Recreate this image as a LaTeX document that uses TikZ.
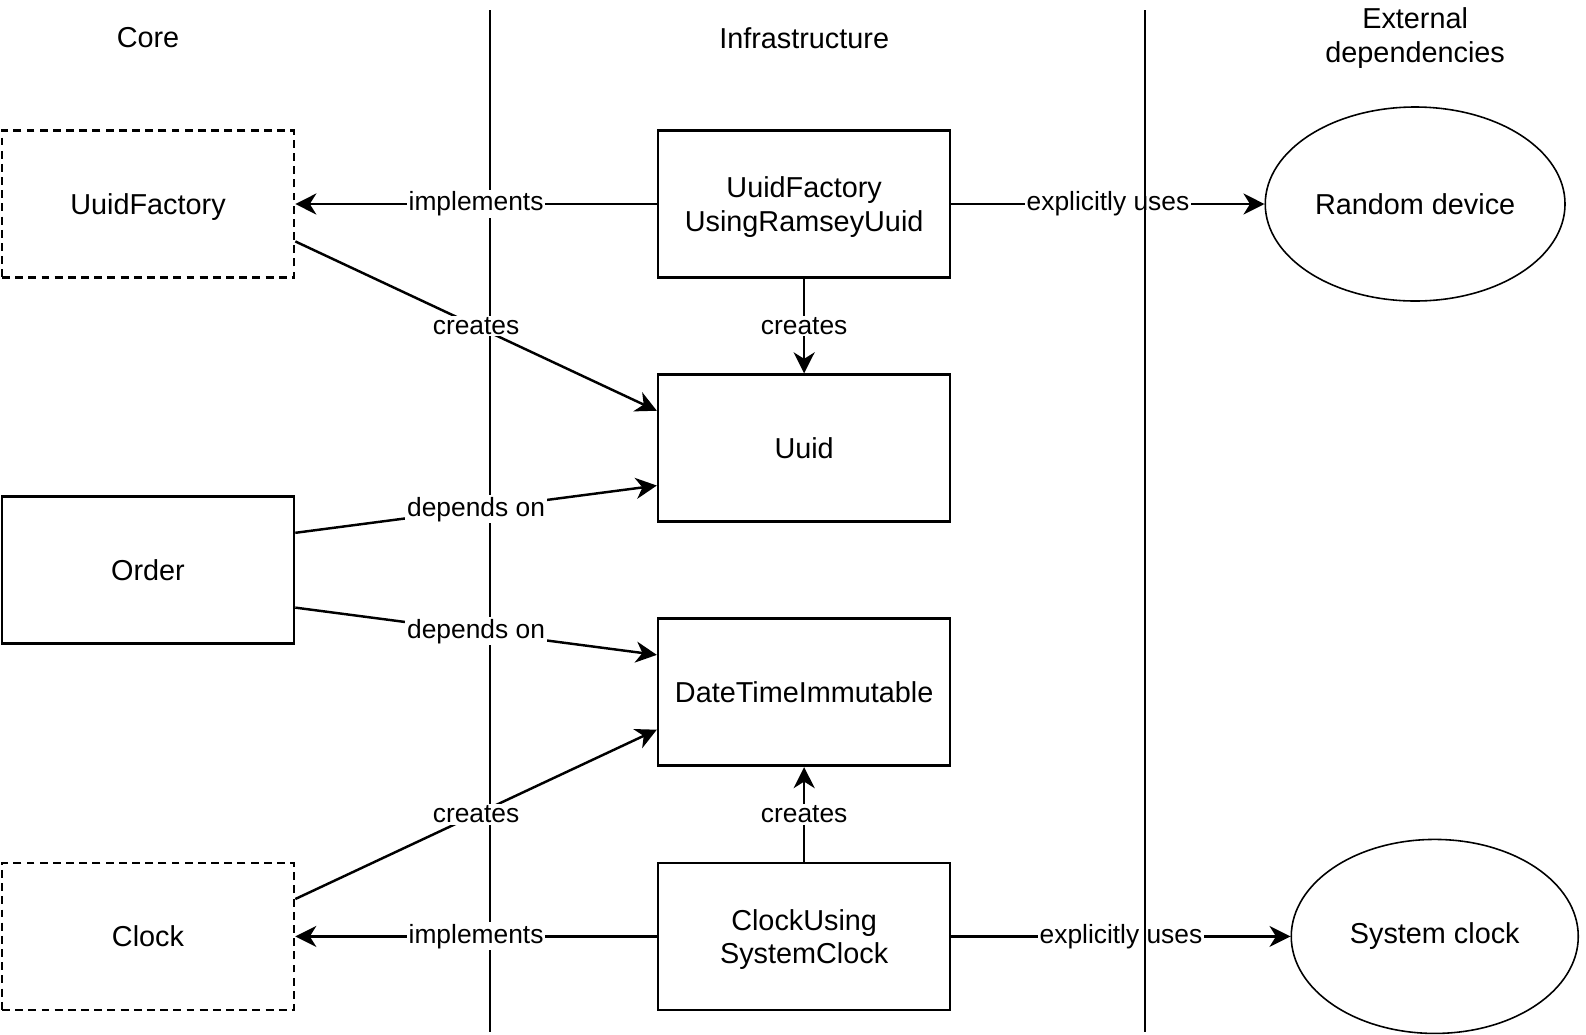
\documentclass[tikz,border=0pt]{standalone}
\usepackage{fontspec}
\setmainfont{Liberation Sans}
\usetikzlibrary{
    positioning,      % right=of, below=of
    arrows.meta,      % Stealth
    shapes.geometric, % ellipse
    calc              % ($(a)!0.25!(b)$)
}

\begin{document}
\begin{tikzpicture}[
        x=0.2mm, y=-0.2mm,
        font=\fontsize{16.4}{18.9}\selectfont,
        box/.style={draw, line width=1.5pt, align=center, minimum width=58.4mm, minimum height=29.4mm, inner sep=3pt, text depth=0pt},
        iface/.style={box, dash pattern=on 4.5pt off 3pt},
        ext/.style={draw, ellipse, line width=0.9pt, align=center, minimum width=57.4mm, minimum height=38.8mm},
        rel/.style={-{Stealth[length=4.2mm, width=4.2mm, inset=1.3mm]}, line width=1.4pt},
        lbl/.style={midway, fill=white, inner sep=1pt, font=\fontsize{15}{17}\selectfont},
        lane/.style={line width=1.1pt}]

        \useasboundingbox (0,0) rectangle (1586,1034);

        % linea Core | Infrastructure
        \draw[lane] (490,10) -- (490,1032);

        % columna Core
        \node[iface] (uuidfac) at (148,204) {UuidFactory};

        % columna Infrastructure
        \node[box, right=72.3mm of uuidfac] (ramsey)   {UuidFactory\\UsingRamseyUuid};
        \node[box, below=18.9mm of ramsey]  (uuid)     {Uuid};
        \node[box, below=18.9mm of uuid]    (dti)      {DateTimeImmutable};
        \node[box, below=18.9mm of dti]     (clocksys) {ClockUsing\\SystemClock};

        \node[iface] (clock) at (uuidfac |- clocksys) {Clock};
        \node[box]   (order) at ($(uuidfac)!0.5!(clock)$) {Order};

        % columna External dependencies
        \node[ext, right=62.6mm of ramsey]   (random)   {Random device};
        \node[ext, right=67.8mm of clocksys] (sysclock) {System clock};

        % cabeceras
        \node (core)    at (148,38)         {Core};
        \node (infra)   at (ramsey |- core) {Infrastructure};
        \node[align=center] (extdeps) at (random |- core) {External\\dependencies};

        % relaciones
        \draw[rel] (ramsey) -- (uuidfac) node[lbl] {implements};
        \draw[rel] (ramsey) -- (random)  node[lbl] {explicitly uses};
        \draw[rel] (ramsey) -- (uuid)    node[lbl] {creates};
        \draw[rel] ($(uuidfac.north east)!0.75!(uuidfac.south east)$) -- ($(uuid.north west)!0.25!(uuid.south west)$)
            node[lbl] {creates};
        \draw[rel] ($(order.north east)!0.25!(order.south east)$) -- ($(uuid.north west)!0.75!(uuid.south west)$)
            node[lbl] {depends on};
        \draw[rel] ($(order.north east)!0.75!(order.south east)$) -- ($(dti.north west)!0.25!(dti.south west)$)
            node[lbl] {depends on};
        \draw[rel] ($(clock.north east)!0.25!(clock.south east)$) -- ($(dti.north west)!0.75!(dti.south west)$)
            node[lbl] {creates};
        \draw[rel] (clocksys) -- (dti)      node[lbl] {creates};
        \draw[rel] (clocksys) -- (clock)    node[lbl] {implements};
        \draw[rel] (clocksys) -- (sysclock) node[lbl] {explicitly uses};

        % linea Infrastructure | External dependencies
        \draw[lane, line width=1.5pt] (1145,10) -- (1145,1032);
    \end{tikzpicture}
\end{document}
